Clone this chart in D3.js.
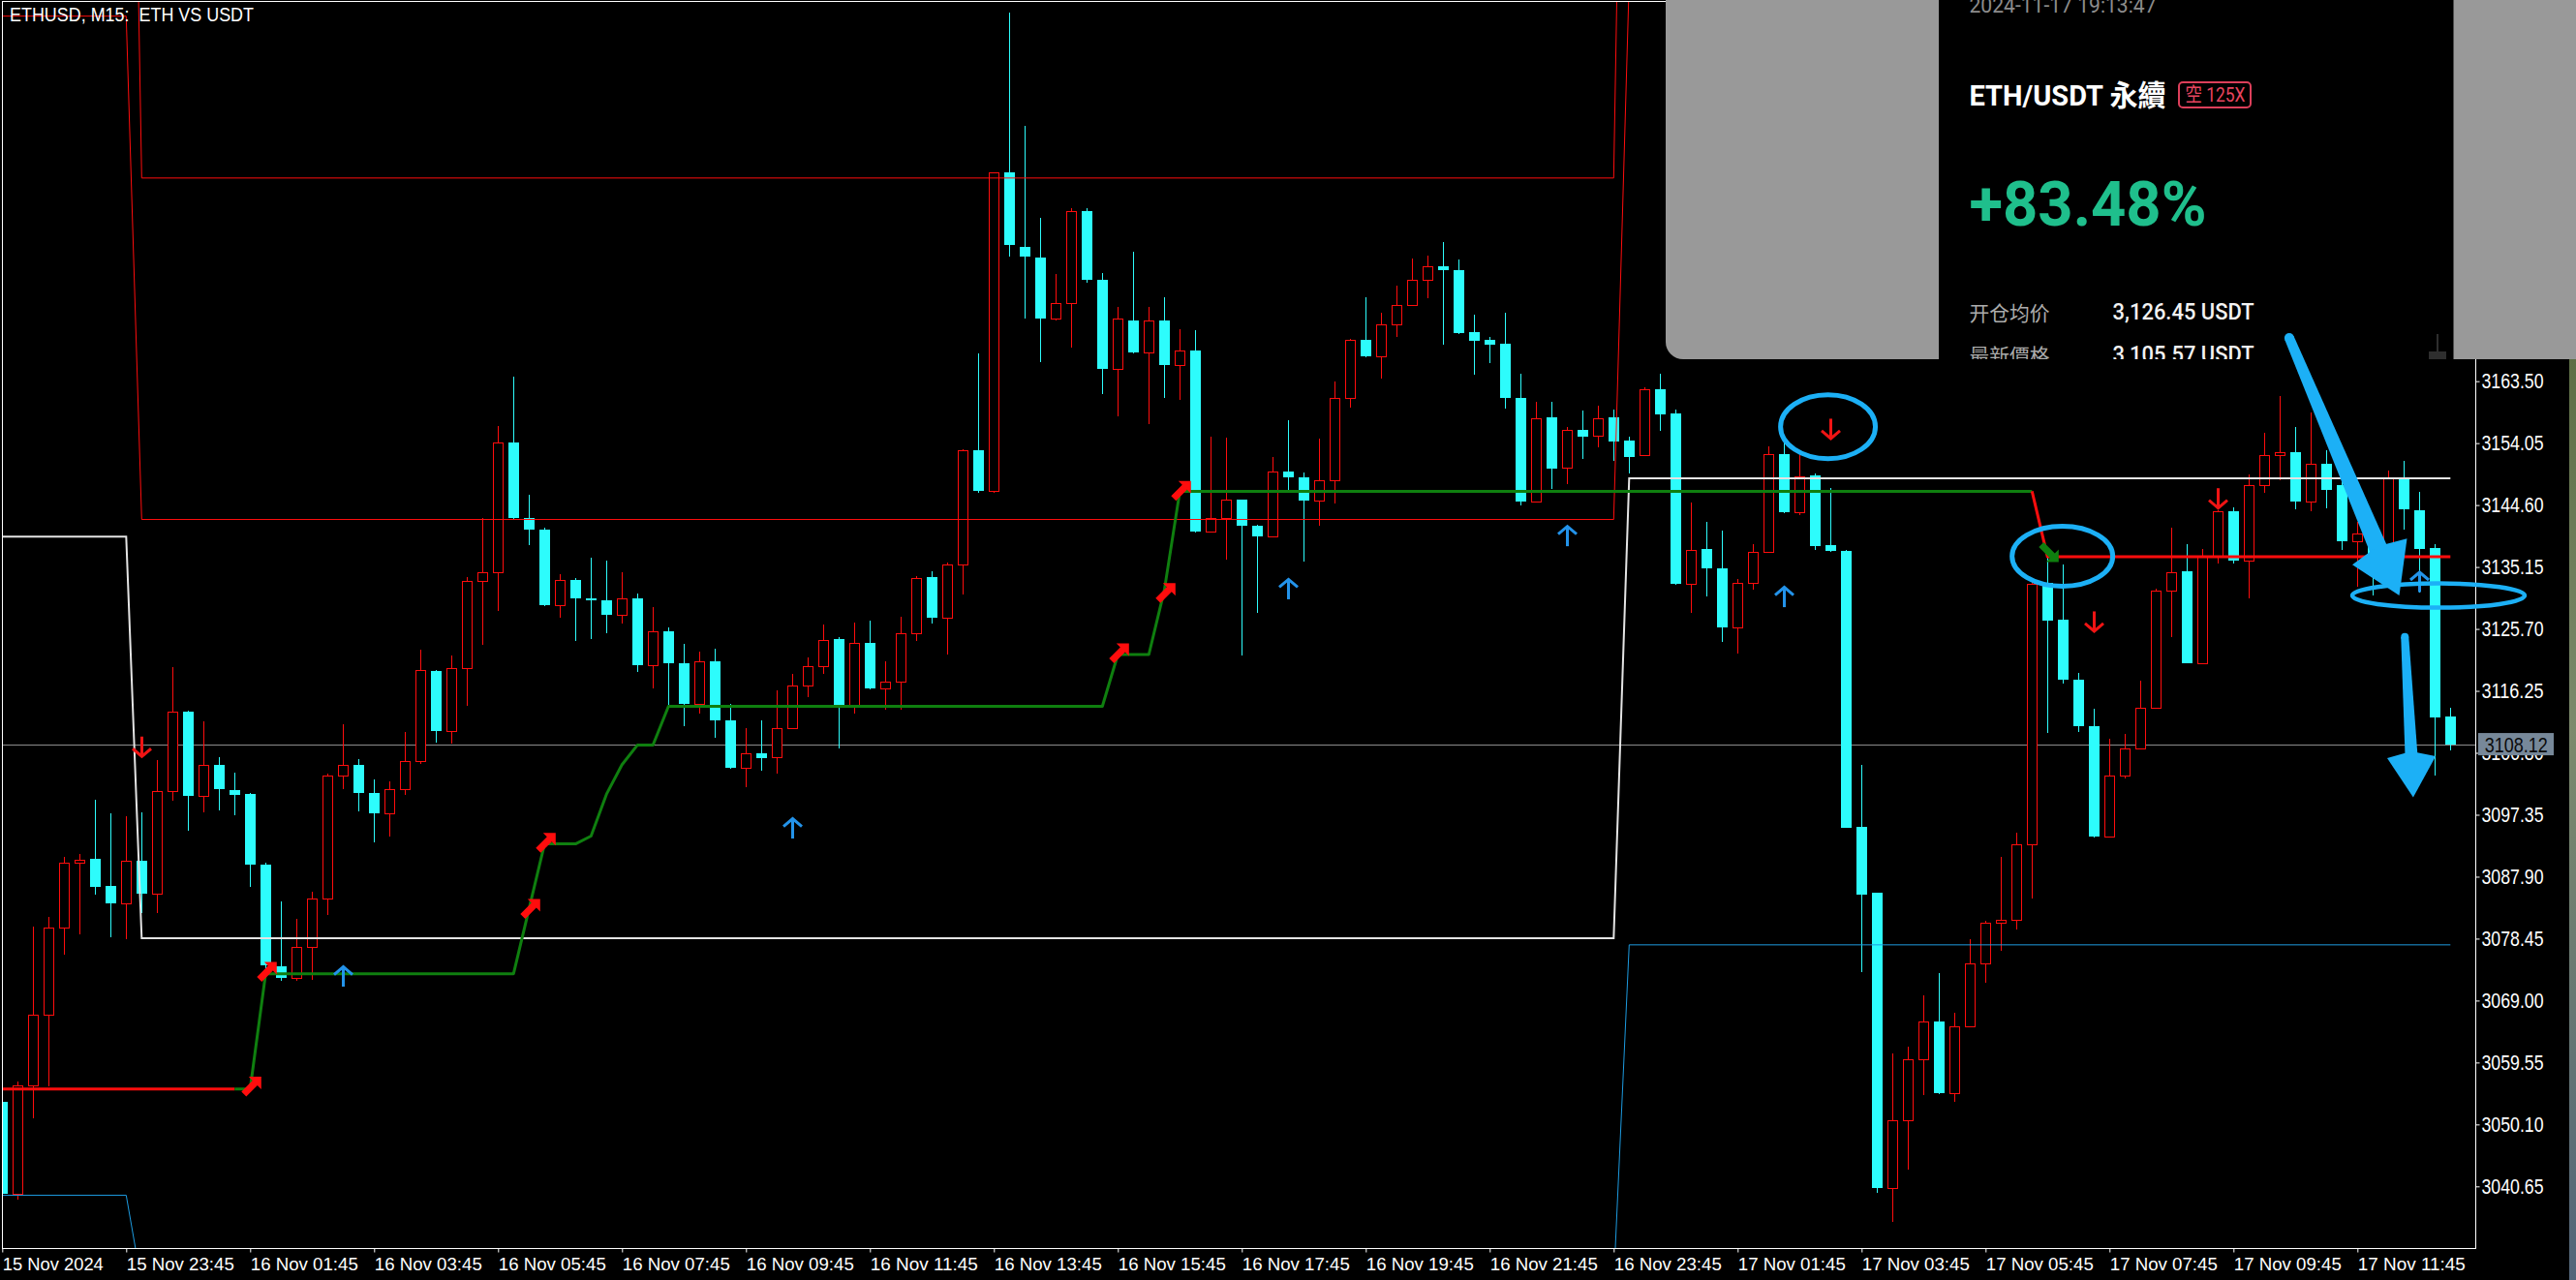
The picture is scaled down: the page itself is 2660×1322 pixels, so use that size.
<!DOCTYPE html>
<html><head><meta charset="utf-8">
<script src="https://cdn.jsdelivr.net/npm/d3@7"></script>
<style>
html,body{margin:0;padding:0;background:#000;overflow:hidden}
svg{display:block}
</style></head><body>
<svg id="c" width="2660" height="1322"></svg>
<script>
// ---------------- DATA ----------------
const opens=[3053.6,3039.5,3056.1,3066.8,3080.1,3090.0,3090.6,3086.5,3083.8,3090.4,
3085.3,3100.9,3113.1,3100.2,3104.9,3101.1,3100.5,3089.8,3074.2,3072.4,
3077.2,3084.5,3103.4,3104.9,3100.6,3097.6,3101.3,3105.5,3119.3,3110.2,
3119.7,3133.0,3134.4,3154.2,3142.7,3140.9,3129.4,3133.2,3130.4,3130.0,
3127.9,3130.3,3120.1,3125.3,3120.4,3114.2,3120.7,3111.7,3104.5,3106.8,
3106.2,3110.6,3117.1,3120.0,3124.1,3114.1,3123.5,3116.7,3117.6,3125.0,
3133.6,3127.4,3135.6,3152.9,3146.7,3195.3,3184.0,3182.3,3173.0,3175.4,
3189.4,3178.9,3165.4,3172.8,3167.9,3172.7,3166.0,3168.2,3140.5,3142.7,
3145.4,3141.5,3139.8,3149.7,3148.8,3145.3,3148.4,3161.0,3169.8,3167.3,
3172.1,3175.1,3178.9,3181.0,3180.5,3171.0,3169.8,3169.2,3161.0,3145.1,
3158.0,3150.3,3156.0,3155.2,3158.0,3154.4,3152.3,3162.3,3158.6,3132.6,
3137.9,3134.9,3125.9,3132.7,3137.4,3152.4,3143.5,3149.1,3138.5,3137.6,
3095.5,3085.4,3040.4,3050.7,3060.0,3065.8,3054.9,3065.1,3074.6,3080.9,
3081.3,3092.8,3132.7,3127.1,3117.9,3110.9,3094.0,3103.4,3107.4,3113.6,
3131.5,3134.5,3120.5,3136.9,3143.6,3136.2,3147.6,3152.3,3152.6,3145.2,
3150.9,3147.6,3139.1,3140.3,3133.0,3148.8,3143.8,3138.0,3112.3];
const highs=[3054.2,3056.7,3080.3,3081.8,3090.9,3091.3,3099.6,3097.6,3097.2,3097.7,
3105.7,3119.9,3113.3,3111.6,3106.2,3103.8,3100.6,3090.0,3084.1,3081.5,
3085.6,3103.7,3111.2,3105.9,3102.7,3102.5,3110.0,3122.6,3119.5,3121.6,
3133.6,3142.7,3156.7,3164.2,3146.1,3141.2,3134.0,3133.4,3136.5,3136.2,
3134.3,3131.1,3129.1,3125.9,3123.4,3122.2,3122.7,3114.2,3110.6,3111.8,
3116.3,3118.9,3121.3,3126.4,3124.4,3126.6,3127.0,3120.7,3127.5,3133.8,
3134.5,3135.8,3153.1,3167.8,3195.4,3219.8,3202.4,3188.4,3179.8,3189.9,
3189.9,3180.0,3174.8,3183.2,3174.9,3176.3,3171.5,3171.3,3155.0,3154.9,
3145.5,3141.6,3151.9,3157.6,3149.6,3154.8,3163.4,3170.0,3176.3,3174.0,
3178.1,3182.2,3182.7,3184.7,3182.1,3173.6,3170.3,3174.0,3164.6,3160.3,
3160.3,3156.5,3159.0,3159.8,3159.2,3155.1,3162.5,3164.6,3159.2,3145.0,
3142.0,3140.7,3133.3,3138.6,3153.6,3154.5,3152.4,3149.4,3147.2,3137.7,
3104.9,3085.5,3061.0,3061.9,3069.8,3073.2,3067.1,3078.4,3081.2,3090.9,
3094.6,3133.0,3136.9,3135.6,3119.0,3113.5,3109.0,3109.7,3117.8,3131.9,
3141.1,3138.6,3137.9,3143.8,3144.2,3149.3,3155.6,3161.3,3156.5,3158.8,
3153.0,3149.0,3142.0,3141.0,3149.8,3151.3,3146.6,3138.6,3113.7];
const lows=[3039.0,3038.6,3051.0,3055.9,3076.0,3079.1,3085.2,3078.6,3078.3,3082.3,
3082.3,3099.5,3094.9,3097.7,3098.0,3097.3,3086.4,3073.0,3072.0,3072.0,
3072.1,3082.1,3101.2,3097.8,3093.1,3094.0,3100.4,3105.1,3108.4,3108.2,
3114.0,3123.3,3128.5,3142.3,3138.45,3129.2,3127.4,3123.8,3124.2,3125.0,
3126.5,3119.2,3116.7,3114.0,3110.9,3112.8,3109.1,3104.3,3101.5,3104.0,
3103.7,3110.4,3115.3,3118.9,3107.5,3112.8,3116.5,3113.4,3113.4,3123.9,
3126.5,3121.8,3130.9,3146.5,3146.5,3182.5,3173.0,3166.4,3172.7,3168.7,
3178.5,3161.6,3158.1,3167.7,3156.9,3161.0,3160.6,3140.4,3140.4,3136.3,
3121.7,3128.1,3139.6,3146.8,3136.0,3141.5,3144.9,3159.5,3167.1,3163.9,
3170.2,3175.0,3176.1,3169.1,3170.7,3164.5,3166.3,3159.3,3144.6,3145.0,
3147.1,3147.8,3151.7,3153.4,3151.4,3149.4,3152.1,3155.9,3132.4,3128.2,
3130.6,3123.7,3121.9,3131.7,3137.3,3143.4,3143.0,3137.8,3137.4,3095.3,
3073.3,3039.7,3035.3,3043.2,3054.6,3054.8,3053.5,3065.0,3071.7,3076.6,
3079.9,3084.5,3109.8,3117.3,3110.0,3093.9,3093.9,3102.9,3107.3,3113.5,
3124.4,3120.4,3120.4,3135.7,3135.7,3130.3,3146.4,3148.4,3144.0,3143.7,
3144.1,3137.8,3132.1,3130.8,3132.0,3140.8,3131.3,3103.4,3107.1];
const closes=[3039.5,3056.1,3066.8,3080.1,3090.0,3090.5,3086.4,3083.8,3090.4,3085.3,
3100.9,3113.1,3100.2,3104.9,3101.3,3100.4,3089.7,3074.4,3072.4,3077.2,
3084.5,3103.4,3104.9,3100.6,3097.6,3101.3,3105.5,3119.4,3110.2,3119.7,
3133.0,3134.4,3154.2,3142.6,3140.9,3129.4,3133.2,3130.3,3130.0,3127.9,
3130.3,3120.1,3125.3,3120.4,3114.2,3120.7,3111.7,3104.5,3106.8,3106.0,
3110.6,3117.1,3120.0,3124.0,3114.1,3123.5,3116.7,3117.6,3125.0,3133.4,
3127.4,3135.6,3152.9,3146.7,3195.3,3184.3,3182.5,3173.0,3175.4,3189.4,
3178.9,3165.4,3173.0,3167.9,3172.7,3165.9,3168.2,3140.5,3142.7,3145.5,
3141.4,3139.8,3149.7,3148.8,3145.3,3148.4,3161.0,3169.8,3167.3,3172.1,
3175.1,3178.9,3181.0,3180.4,3170.9,3169.6,3169.1,3160.9,3145.1,3157.9,
3150.2,3156.0,3155.1,3157.9,3154.3,3152.0,3162.3,3158.5,3132.6,3137.8,
3134.9,3125.9,3132.7,3137.4,3152.4,3143.5,3149.0,3138.3,3137.6,3095.4,
3085.1,3040.4,3050.7,3060.0,3065.8,3054.9,3065.1,3074.6,3080.9,3081.3,
3092.8,3132.6,3126.9,3117.9,3110.8,3094.0,3103.4,3107.4,3113.6,3131.5,
3134.4,3120.5,3136.9,3143.6,3136.2,3147.6,3152.3,3152.6,3145.2,3150.9,
3146.9,3139.1,3140.3,3135.5,3148.8,3143.9,3137.9,3112.2,3108.1];

const priceTicks=[3163.50,3154.05,3144.60,3135.15,3125.70,3116.25,3106.80,3097.35,3087.90,3078.45,3069.00,3059.55,3050.10,3040.65];
const timeTickBars=[0,8,16,24,32,40,48,56,64,72,80,88,96,104,112,120,128,136,144,152];
const timeTickLabels=["15 Nov 2024","15 Nov 23:45","16 Nov 01:45","16 Nov 03:45","16 Nov 05:45","16 Nov 07:45","16 Nov 09:45","16 Nov 11:45","16 Nov 13:45","16 Nov 15:45","16 Nov 17:45","16 Nov 19:45","16 Nov 21:45","16 Nov 23:45","17 Nov 01:45","17 Nov 03:45","17 Nov 05:45","17 Nov 07:45","17 Nov 09:45","17 Nov 11:45"];
const lastPrice=3108.12;

// daily channel levels (per day segment)
const dayStartBars=[0,9,105];
const redUpperLevels=[3330,3194.5,3330];
const redLowerLevels=[3219.2,3142.4,3224.5];
const whiteLevels=[3139.8,3078.5,3148.7];
const blueLevels=[3039.3,3025.8,3077.5];

// trailing trend line breakpoints
const trendBars=[0,15,16,17,33,34,35,37,38,39,40,41,42,43,71,72,74,75,76,131,132,158];
const trendVals=[3055.5,3055.5,3055.5,3073.1,3073.1,3083.0,3092.9,3092.9,3094.1,3100.5,3105.0,3108.0,3108.0,3113.9,3113.9,3121.8,3121.8,3131.6,3146.7,3146.7,3136.7,3136.7];
const trendFlipBars=[15,131];

// signal markers
const buyArrowBars=[16,17,34,35,72,75,76];
const buyArrowPrices=[3055.9,3073.4,3083.0,3093.1,3122.0,3131.2,3146.8];
const sellArrowBars=[132];
const sellArrowPrices=[3137.4];
const upArrowBars=[22,51,83,101,115,156];
const upArrowPrices=[3072.6,3095.2,3131.7,3139.8,3130.5,3132.8];
const downArrowBars=[9,118,135,143];
const downArrowPrices=[3107.8,3156.3,3126.9,3145.7];

// hand drawn annotations (bar index, price)
const ellipseCenters=[[117.83,3156.56],[132.96,3136.79],[157.23,3130.8]];
const ellipseRadii=[[3.06,4.875],[3.25,4.58],[5.56,1.85]];
const bigArrowA=[[147.6,3170.1],[151.67,3135.5],[155.2,3139.5],[154.7,3130.8]]; // start, wing1, wing2, tip
const bigArrowB=[[155.06,3124.5],[153.92,3106.0],[157.05,3106.3],[155.6,3100.0]];

// ---------------- CHART ----------------
const svg=d3.select("#c");
const plotL=2.5,plotR=2556.5,plotT=1.5,plotB=1289.5;
const x=d3.scaleLinear().domain([0,158]).range([2.3,2530.3]);
const y=d3.scaleLinear().domain([3040.65,3163.50]).range([1225.3,393.7]);
const CY="#2dfcfc",RD="#ff0d0d",GR="#0f7f0f",BL="#1cb0f6";
const axFont="'Liberation Sans', Arial, sans-serif";

svg.append("rect").attr("width",2660).attr("height",1322).attr("fill","#000");
const defs=svg.append("defs");
defs.append("clipPath").attr("id","plot").append("rect").attr("x",plotL).attr("y",plotT).attr("width",plotR-plotL).attr("height",plotB-plotT);
defs.append("clipPath").attr("id","panel").append("rect").attr("x",2002).attr("y",0).attr("width",531.5).attr("height",371);
const grad=defs.append("linearGradient").attr("id","strip").attr("x1",0).attr("y1",0).attr("x2",0).attr("y2",1);
grad.append("stop").attr("offset","0%").attr("stop-color","#5d6e45");
grad.append("stop").attr("offset","40%").attr("stop-color","#7c8a6c");
grad.append("stop").attr("offset","100%").attr("stop-color","#52657a");

const plot=svg.append("g").attr("clip-path","url(#plot)");

// current price line
plot.append("line").attr("x1",plotL).attr("x2",plotR).attr("y1",Math.round(y(lastPrice))+0.5).attr("y2",Math.round(y(lastPrice))+0.5)
  .attr("stroke","#8c8c8c").attr("stroke-width",1);

// candles
const cg=plot.append("g");
const px=v=>Math.round(v);
opens.forEach((o,i)=>{
  const c=closes[i],h=highs[i],l=lows[i];
  const cx=px(x(i))+0.5;
  const yTop=px(y(Math.max(o,c))), yBot=px(y(Math.min(o,c)));
  const yh=px(y(h)), yl=px(y(l));
  if(c>=o){
    cg.append("line").attr("x1",cx).attr("x2",cx).attr("y1",yh).attr("y2",yTop).attr("stroke",RD);
    cg.append("line").attr("x1",cx).attr("x2",cx).attr("y1",yBot).attr("y2",yl).attr("stroke",RD);
    cg.append("rect").attr("x",cx-5).attr("y",yTop+0.5).attr("width",10).attr("height",Math.max(1,yBot-yTop))
      .attr("fill","#000").attr("stroke",RD).attr("stroke-width",1);
  } else {
    cg.append("line").attr("x1",cx).attr("x2",cx).attr("y1",yh).attr("y2",yl).attr("stroke",CY);
    cg.append("rect").attr("x",cx-5.5).attr("y",yTop).attr("width",11).attr("height",Math.max(2,yBot-yTop)).attr("fill",CY);
  }
});

// channel lines
function levelPoints(levels){
  const pts=[];
  dayStartBars.forEach((s,d)=>{
    const e=d<dayStartBars.length-1?dayStartBars[d+1]-1:opens.length-1;
    pts.push([s,levels[d]],[e,levels[d]]);
  });
  return pts;
}
const lineGen=d3.line().x(d=>x(d[0])).y(d=>y(d[1]));
plot.append("path").attr("d",lineGen(levelPoints(redUpperLevels))).attr("fill","none").attr("stroke",RD).attr("stroke-width",1);
plot.append("path").attr("d",lineGen(levelPoints(redLowerLevels))).attr("fill","none").attr("stroke",RD).attr("stroke-width",1);
plot.append("path").attr("d",lineGen(levelPoints(whiteLevels))).attr("fill","none").attr("stroke","#e4e4e4").attr("stroke-width",2);
plot.append("path").attr("d",lineGen(levelPoints(blueLevels))).attr("fill","none").attr("stroke","#1d9be0").attr("stroke-width",1);

// trend line
const tpts=trendBars.map((b,i)=>[b,trendVals[i]]);
const segs=[[0,trendFlipBars[0],RD],[trendFlipBars[0],trendFlipBars[1],GR],[trendFlipBars[1],158,RD]];
segs.forEach(([a,b,col])=>{
  plot.append("path").attr("d",lineGen(tpts.filter(p=>p[0]>=a&&p[0]<=b))).attr("fill","none")
    .attr("stroke",col).attr("stroke-width",3).attr("stroke-linejoin","round");
});

// thick arrows (NE shape; flip vertically for SE)
function thickArrow(cx,cy,flip,col){
  const pts=[[10,-10],[-3,-10],[1,-6],[-10.5,5.5],[-5.5,10.5],[6,-1],[10,3]];
  plot.append("polygon").attr("points",pts.map(p=>p.join(",")).join(" ")).attr("fill",col)
    .attr("transform",`translate(${cx},${cy}) scale(1,${flip?-1:1})`);
}
buyArrowBars.forEach((b,i)=>thickArrow(x(b)+1.5,y(buyArrowPrices[i]),false,RD));
sellArrowBars.forEach((b,i)=>thickArrow(x(b)+1.5,y(sellArrowPrices[i]),true,GR));

// thin arrows
function thinArrow(cx,cy,dir,col){ // dir -1 up, 1 down
  const s=dir;
  plot.append("line").attr("x1",cx).attr("x2",cx).attr("y1",cy+10).attr("y2",cy-10).attr("stroke",col).attr("stroke-width",3);
  plot.append("path").attr("d",`M${cx-9.5},${cy+s*2.5}L${cx},${cy+s*10.5}L${cx+9.5},${cy+s*2.5}`)
    .attr("fill","none").attr("stroke",col).attr("stroke-width",3);
}
upArrowBars.forEach((b,i)=>thinArrow(px(x(b))+0.5,y(upArrowPrices[i]),-1,"#2393ea"));
downArrowBars.forEach((b,i)=>thinArrow(px(x(b))+0.5,y(downArrowPrices[i]),1,"#f01414"));

// frame
svg.append("rect").attr("x",plotL).attr("y",plotT).attr("width",plotR-plotL).attr("height",plotB-plotT)
  .attr("fill","none").attr("stroke","#fff").attr("stroke-width",1);

// title
svg.append("text").attr("x",10).attr("y",21.7).attr("fill","#fff").attr("font-family",axFont).attr("font-size",20)
  .attr("xml:space","preserve").style("white-space","pre").attr("textLength",252).attr("lengthAdjust","spacingAndGlyphs")
  .text("ETHUSD, M15:  ETH VS USDT");

// right axis
const yAxis=d3.axisRight(y).tickValues(priceTicks).tickSize(4).tickPadding(2).tickFormat(d3.format(".2f"));
const gy=svg.append("g").attr("transform",`translate(${plotR},0)`).call(yAxis);
gy.select(".domain").remove();
gy.selectAll(".tick line").attr("stroke","#fff");
gy.selectAll(".tick text").attr("fill","#fff").attr("font-family",axFont).attr("font-size",22)
  .attr("textLength",64).attr("lengthAdjust","spacingAndGlyphs");

// price label box
const yl=y(lastPrice);
svg.append("rect").attr("x",2559).attr("y",yl-11.5).attr("width",78).attr("height",23).attr("fill","#778899");
svg.append("text").attr("x",2565.7).attr("y",yl+8).attr("fill","#0a0a0a").attr("font-family",axFont).attr("font-size",22)
  .attr("textLength",65).attr("lengthAdjust","spacingAndGlyphs").text(d3.format(".2f")(lastPrice));

// bottom axis
const xAxis=d3.axisBottom(x).tickValues(timeTickBars).tickSize(4).tickFormat((d,i)=>timeTickLabels[i]);
const gx=svg.append("g").attr("transform",`translate(0,${plotB})`).call(xAxis);
gx.select(".domain").remove();
gx.selectAll(".tick line").attr("stroke","#fff");
gx.selectAll(".tick text").attr("fill","#fff").attr("font-family",axFont).attr("font-size",18.5)
  .attr("text-anchor","start").attr("x",0).attr("y",22.2).attr("dy",0)
  .attr("textLength",(d,i)=>i===0?104:111).attr("lengthAdjust","spacingAndGlyphs");

// photo strip at far right
svg.append("rect").attr("x",2653).attr("y",371).attr("width",7).attr("height",951).attr("fill","url(#strip)");

// ---------------- OVERLAY SCREENSHOT PANEL ----------------
const ov=svg.append("g");
ov.append("rect").attr("x",1720).attr("y",-40).attr("width",980).attr("height",411).attr("rx",18).attr("fill","#999999");
ov.append("rect").attr("x",2002).attr("y",0).attr("width",531.5).attr("height",371).attr("fill","#000");
const pt=ov.append("g").attr("clip-path","url(#panel)");
const uiFont="Roboto, 'Noto Sans CJK TC', sans-serif";
pt.append("text").attr("x",2033.5).attr("y",12.7).attr("fill","#8c8c8c").attr("font-family",uiFont).attr("font-size",22)
  .attr("textLength",193).attr("lengthAdjust","spacingAndGlyphs").text("2024-11-17 19:13:47");
pt.append("text").attr("x",2033.5).attr("y",108.5).attr("fill","#fff").attr("font-family",uiFont).attr("font-weight","bold").attr("font-size",30)
  .attr("textLength",203).attr("lengthAdjust","spacingAndGlyphs").text("ETH/USDT 永續");
pt.append("rect").attr("x",2250).attr("y",85).attr("width",74).attr("height",26).attr("rx",4).attr("fill","none").attr("stroke","#dc3f5a").attr("stroke-width",2);
pt.append("text").attr("x",2256.5).attr("y",105).attr("fill","#e8455f").attr("font-family",uiFont).attr("font-size",20)
  .attr("textLength",62).attr("lengthAdjust","spacingAndGlyphs").text("空 125X");
pt.append("text").attr("x",2033.5).attr("y",233).attr("fill","#1fbf8c").attr("font-family",uiFont).attr("font-weight","bold").attr("font-size",65)
  .attr("textLength",245).attr("lengthAdjust","spacingAndGlyphs").text("+83.48%");
pt.append("text").attr("x",2033.5).attr("y",331).attr("fill","#ababab").attr("font-family","'Noto Sans CJK SC', sans-serif").attr("font-size",21)
  .attr("textLength",83).attr("lengthAdjust","spacingAndGlyphs").text("开仓均价");
pt.append("text").attr("x",2181.6).attr("y",330).attr("fill","#f2f2f2").attr("font-family",uiFont).attr("font-weight",500).attr("font-size",23)
  .attr("textLength",146).attr("lengthAdjust","spacingAndGlyphs").text("3,126.45 USDT");
pt.append("text").attr("x",2033.5).attr("y",375).attr("fill","#ababab").attr("font-family","'Noto Sans CJK TC', sans-serif").attr("font-size",21)
  .attr("textLength",83).attr("lengthAdjust","spacingAndGlyphs").text("最新價格");
pt.append("text").attr("x",2181.6).attr("y",374).attr("fill","#f2f2f2").attr("font-family",uiFont).attr("font-weight",500).attr("font-size",23)
  .attr("textLength",146).attr("lengthAdjust","spacingAndGlyphs").text("3,105.57 USDT");
pt.append("line").attr("x1",2517).attr("x2",2517).attr("y1",345).attr("y2",364).attr("stroke","#2e2e2e").attr("stroke-width",2);
pt.append("rect").attr("x",2508).attr("y",363).attr("width",18).attr("height",10).attr("fill","#2e2e2e");

// ---------------- ANNOTATIONS ----------------
const an=svg.append("g");
ellipseCenters.forEach((c,i)=>{
  const cx=x(c[0]),cy=y(c[1]);
  const rx=x(c[0]+ellipseRadii[i][0])-cx, ry=cy-y(c[1]+ellipseRadii[i][1]);
  an.append("ellipse").attr("cx",cx).attr("cy",cy).attr("rx",rx).attr("ry",ry)
    .attr("fill","none").attr("stroke",BL).attr("stroke-width",i===2?4.5:5);
});
function bigArrow(spec,w0,w1){
  const P=spec.map(d=>[x(d[0]),y(d[1])]);
  const [S,W1,W2,T]=P;
  const B=[(W1[0]+W2[0])/2,(W1[1]+W2[1])/2];
  const dx=B[0]-S[0],dy=B[1]-S[1],L=Math.hypot(dx,dy);
  const nx=-dy/L,ny=dx/L;
  const shaft=[[S[0]+nx*w0/2,S[1]+ny*w0/2],[B[0]+nx*w1/2,B[1]+ny*w1/2],[B[0]-nx*w1/2,B[1]-ny*w1/2],[S[0]-nx*w0/2,S[1]-ny*w0/2]];
  an.append("polygon").attr("points",shaft.map(p=>p.join(",")).join(" ")).attr("fill",BL);
  an.append("circle").attr("cx",S[0]).attr("cy",S[1]).attr("r",w0/2).attr("fill",BL);
  const inner=[B[0]-dx/L*6,B[1]-dy/L*6];
  an.append("polygon").attr("points",[W1,T,W2,inner].map(p=>p.join(",")).join(" ")).attr("fill",BL);
}
bigArrow(bigArrowA,10,19);
bigArrow(bigArrowB,8,13);
</script>
</body></html>
